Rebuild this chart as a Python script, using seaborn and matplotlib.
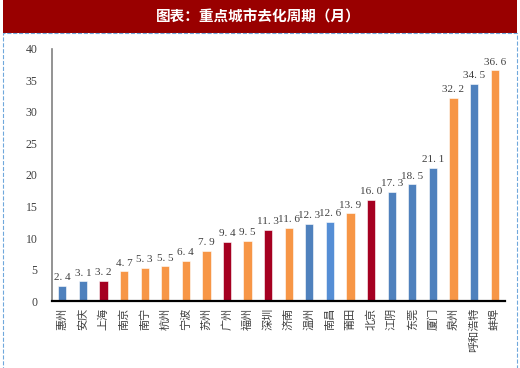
import matplotlib
matplotlib.use("Agg")
import matplotlib.pyplot as plt
import matplotlib.patches as mpatches
import seaborn as sns
import pandas as pd

# data
cities = ["惠州", "安庆", "上海", "南京", "南宁", "杭州", "宁波", "苏州", "广州", "福州", "深圳",
          "济南", "温州", "南昌", "莆田", "北京", "江阴", "东莞", "厦门", "泉州", "呼和浩特", "蚌埠"]
months = [2.4, 3.1, 3.2, 4.7, 5.3, 5.5, 6.4, 7.9, 9.4, 9.5, 11.3,
          11.6, 12.3, 12.6, 13.9, 16.0, 17.3, 18.5, 21.1, 32.2, 34.5, 36.6]
groups = ["b", "b", "r", "o", "o", "o", "o", "o", "r", "o", "r",
          "o", "b", "b2", "o", "r", "b", "b", "b", "o", "b", "o"]
y_ticks = [0, 5, 10, 15, 20, 25, 30, 35, 40]

palette = {"b": "#4F81BD", "b2": "#558ED5", "o": "#F79646", "r": "#A50021"}

df = pd.DataFrame({"city": cities, "months": months, "group": groups})

sns.set_style("white")
plt.rcParams["font.family"] = ["Noto Sans CJK SC", "DejaVu Sans"]

fig = plt.figure(figsize=(5.2, 3.68), dpi=100)
ax = fig.add_axes([0.1, 0.182, 0.871, 0.685])

sns.barplot(data=df, x="city", y="months", hue="group", palette=palette, saturation=1,
            width=0.4, legend=False, ax=ax, edgecolor="white", linewidth=0.4)

ax.set_xlim(-0.5, len(cities) - 0.5)
ax.set_ylim(0, 40)
ax.set_yticks(y_ticks)
ax.set_yticklabels([str(t) for t in y_ticks], family="Liberation Serif",
                   fontsize=8.5, color="#404040")
ax.set_xlabel("")
ax.set_ylabel("")

ax.set_xticks(range(len(cities)))
ax.set_xticklabels(cities, rotation=90, fontsize=8, color="#404040",
                   family="Noto Sans CJK SC", va="top", ha="center")
ax.set_xticks([i - 0.5 for i in range(len(cities) + 1)], minor=True)
ax.tick_params(axis="x", which="major", length=0, pad=5)
ax.tick_params(axis="x", which="minor", length=4, direction="out", color="black", width=1)
ax.tick_params(axis="y", length=5, direction="inout", color="#333333", width=1.2, pad=8)

for s in ["top", "right"]:
    ax.spines[s].set_visible(False)
ax.spines["left"].set_color("#808080")
ax.spines["left"].set_linewidth(1.2)
ax.spines["bottom"].set_color("black")
ax.spines["bottom"].set_linewidth(1.6)

for i, v in enumerate(months):
    ax.text(i, v + 0.6, f"{v:.1f}".replace(".", ". "), ha="center", va="bottom",
            fontsize=8, family="Liberation Serif", color="#404040")

# title banner and dashed frame
fig.patches.append(mpatches.Rectangle((0.006, 0.91), 0.988, 0.09, transform=fig.transFigure,
                                      facecolor="#990000", edgecolor="none", zorder=0))
fig.patches.append(mpatches.Rectangle((0.005, -0.01), 0.99, 0.92, transform=fig.transFigure,
                                      facecolor="none", edgecolor="#6FA8DC", linestyle="--",
                                      linewidth=0.8, zorder=0))
fig.text(0.497, 0.956, "图表：重点城市去化周期（月）", color="white", fontsize=10.5,
         fontweight="bold", ha="center", va="center")

fig.savefig("out.png", dpi=100)
